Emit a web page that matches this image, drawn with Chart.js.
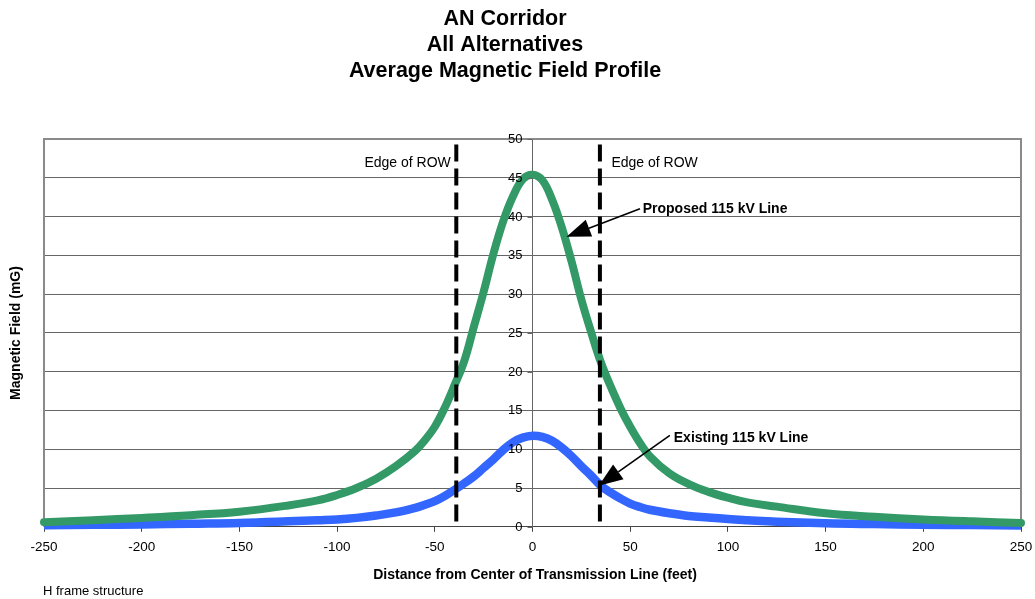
<!DOCTYPE html>
<html>
<head>
<meta charset="utf-8">
<script src="https://cdn.jsdelivr.net/npm/chart.js@4.4.1/dist/chart.umd.min.js"></script>
<style>
  html, body { margin: 0; padding: 0; background: #ffffff; }
  #wrap { width: 1035px; height: 599px; position: relative; }
</style>
</head>
<body>
<div id="wrap"><canvas id="chart" width="1035" height="599"></canvas></div>
<script>
// Lateral distance from the transmission line centre (feet)
const distanceFt = [
  -250, -225, -200, -175, -150, -125, -110, -100, -90, -80, -70, -60, -55, -50, -45, -40,
  -35, -30, -25, -20, -15, -10, -5, 0, 5, 10, 15, 20, 25, 30, 35, 40, 45, 50, 55, 60,
  70, 80, 90, 100, 110, 125, 150, 175, 200, 225, 250
];

// Average magnetic field, proposed 115 kV line (mG)
const proposedMG = [
  0.6, 0.85, 1.15, 1.5, 1.95, 2.75, 3.4, 4.1, 5.0, 6.2, 7.8, 9.8, 11.2, 12.9, 15.3, 18.2,
  21.3, 25.8, 30.3, 35.2, 39.4, 42.6, 44.8, 45.4, 44.7, 42.2, 38.6, 34.2, 29.3, 25.1, 21.2, 18.1,
  15.3, 12.9, 10.8, 9.1, 6.9, 5.5, 4.5, 3.75, 3.15, 2.6, 1.75, 1.3, 0.95, 0.7, 0.5
];

// Average magnetic field, existing 115 kV line (mG)
const existingMG = [
  0.2, 0.25, 0.3, 0.4, 0.5, 0.7, 0.85, 0.95, 1.15, 1.45, 1.85, 2.45, 2.85, 3.3, 3.95, 4.75,
  5.6, 6.5, 7.6, 8.7, 9.9, 10.9, 11.5, 11.75, 11.6, 11.1, 10.2, 9.1, 7.8, 6.6, 5.3, 4.4,
  3.65, 3.0, 2.55, 2.2, 1.75, 1.4, 1.2, 1.0, 0.85, 0.65, 0.45, 0.35, 0.28, 0.22, 0.18
];

// Right-of-way edges (feet from centre)
const rowEdgesFt = [-39, 34.5];
const rowEdgeTopMG = 49.3;

// Axis ranges and tick spacing
const xRange = [-250, 250];
const xStep = 50;
const yRange = [0, 50];
const yStep = 5;

const titleLines = ['AN Corridor', 'All Alternatives', 'Average Magnetic Field Profile'];
const xTitle = 'Distance from Center of Transmission Line (feet)';
const yTitle = 'Magnetic Field (mG)';
const footnote = 'H frame structure';
const rowLabel = 'Edge of ROW';

// Callouts: arrow tip/tail and label anchor, in (feet, mG)
const callouts = [
  { text: 'Proposed 115 kV Line', tip: [17.4, 37.4], tail: [55.0, 41.0], label: [56.4, 40.4] },
  { text: 'Existing 115 kV Line', tip: [33.9, 5.3], tail: [70.3, 11.8], label: [72.3, 10.9] }
];

const FONT = '"Liberation Sans", Arial, Helvetica, sans-serif';

const toPoints = (xs, ys) => xs.map((x, i) => ({ x: x, y: ys[i] }));

const decor = {
  id: 'decor',
  beforeDatasetsDraw(chart) {
    const { ctx, chartArea: a } = chart;
    ctx.save();
    ctx.strokeStyle = '#8a8a8a';
    ctx.lineWidth = 2;
    ctx.beginPath();
    ctx.moveTo(a.left, a.bottom);
    ctx.lineTo(a.left, a.top);
    ctx.lineTo(a.right, a.top);
    ctx.lineTo(a.right, a.bottom);
    ctx.stroke();
    ctx.restore();
  },
  afterDatasetsDraw(chart) {
    const { ctx, scales: { x, y } } = chart;
    ctx.save();
    ctx.fillStyle = '#000';

    // Value axis through x = 0: tick marks and labels on its left side
    const x0 = x.getPixelForValue(0);
    ctx.strokeStyle = '#666';
    ctx.lineWidth = 1;
    ctx.font = '13px ' + FONT;
    ctx.textAlign = 'right';
    ctx.textBaseline = 'middle';
    y.ticks.forEach(t => {
      const py = Math.round(y.getPixelForValue(t.value)) + 0.5;
      ctx.beginPath();
      ctx.moveTo(x0 - 5, py);
      ctx.lineTo(x0, py);
      ctx.stroke();
      ctx.fillText(String(t.value), x0 - 10, py);
    });

    // Title
    ctx.textBaseline = 'alphabetic';
    ctx.font = 'bold 21.5px ' + FONT;
    ctx.textAlign = 'center';
    const titleBase = [25, 51, 77];
    titleLines.forEach((t, i) => ctx.fillText(t, 505, titleBase[i]));

    // Edge of ROW labels
    ctx.font = '14px ' + FONT;
    ctx.textAlign = 'right';
    ctx.fillText(rowLabel, x.getPixelForValue(-41.8), y.getPixelForValue(46.45));
    ctx.textAlign = 'left';
    ctx.fillText(rowLabel, x.getPixelForValue(40.4), y.getPixelForValue(46.45));

    // Callouts with arrows
    callouts.forEach(c => {
      const tx = x.getPixelForValue(c.tip[0]), ty = y.getPixelForValue(c.tip[1]);
      const sx = x.getPixelForValue(c.tail[0]), sy = y.getPixelForValue(c.tail[1]);
      const ang = Math.atan2(ty - sy, tx - sx);
      const L = 24, W = 9;
      const bx = tx - L * Math.cos(ang), by = ty - L * Math.sin(ang);
      ctx.strokeStyle = '#000';
      ctx.lineWidth = 1.6;
      ctx.beginPath();
      ctx.moveTo(sx, sy);
      ctx.lineTo(bx, by);
      ctx.stroke();
      ctx.beginPath();
      ctx.moveTo(tx, ty);
      ctx.lineTo(bx + W * Math.sin(ang), by - W * Math.cos(ang));
      ctx.lineTo(bx - W * Math.sin(ang), by + W * Math.cos(ang));
      ctx.closePath();
      ctx.fill();
      ctx.font = 'bold 14px ' + FONT;
      ctx.textAlign = 'left';
      ctx.fillText(c.text, x.getPixelForValue(c.label[0]), y.getPixelForValue(c.label[1]));
    });

    // Axis titles and footnote
    ctx.font = 'bold 14px ' + FONT;
    ctx.textAlign = 'center';
    ctx.fillText(xTitle, 535, 579);
    ctx.save();
    ctx.translate(19.5, 333);
    ctx.rotate(-Math.PI / 2);
    ctx.fillText(yTitle, 0, 0);
    ctx.restore();
    ctx.font = '13px ' + FONT;
    ctx.textAlign = 'left';
    ctx.fillText(footnote, 43, 595);
    ctx.restore();
  }
};

new Chart(document.getElementById('chart'), {
  type: 'line',
  data: {
    datasets: [
      ...rowEdgesFt.map(ft => ({
        label: rowLabel,
        data: [{ x: ft, y: rowEdgeTopMG }, { x: ft, y: 0 }],
        borderColor: '#000',
        borderWidth: 4,
        borderDash: [17, 7],
        pointRadius: 0,
        order: 0,
        clip: 6
      })),
      {
        label: 'Proposed 115 kV Line',
        data: toPoints(distanceFt, proposedMG),
        borderColor: '#339966',
        borderWidth: 8,
        borderCapStyle: 'round',
        borderJoinStyle: 'round',
        tension: 0.4,
        pointRadius: 0,
        order: 1,
        clip: 8
      },
      {
        label: 'Existing 115 kV Line',
        data: toPoints(distanceFt, existingMG),
        borderColor: '#3366ff',
        borderWidth: 8.5,
        borderCapStyle: 'butt',
        tension: 0.4,
        pointRadius: 0,
        order: 2,
        clip: 8
      }
    ]
  },
  options: {
    responsive: false,
    animation: false,
    devicePixelRatio: 1,
    layout: { autoPadding: false, padding: { left: 44, right: 14, top: 139, bottom: 37 } },
    plugins: {
      legend: { display: false },
      title: { display: false },
      tooltip: { enabled: false }
    },
    scales: {
      x: {
        type: 'linear',
        min: xRange[0],
        max: xRange[1],
        afterFit: scale => { scale.paddingLeft = 0; scale.paddingRight = 0; },
        ticks: { stepSize: xStep, color: '#000', font: { family: FONT, size: 13.5 }, padding: 7 },
        grid: { drawOnChartArea: false, tickLength: 5, color: '#444' },
        border: { color: '#444', width: 1 }
      },
      y: {
        type: 'linear',
        position: { x: 0 },
        min: yRange[0],
        max: yRange[1],
        ticks: { stepSize: yStep, display: false },
        grid: { color: '#666', lineWidth: 1, tickLength: 0 },
        border: { color: '#666', width: 1 }
      }
    }
  },
  plugins: [decor]
});
</script>
</body>
</html>
